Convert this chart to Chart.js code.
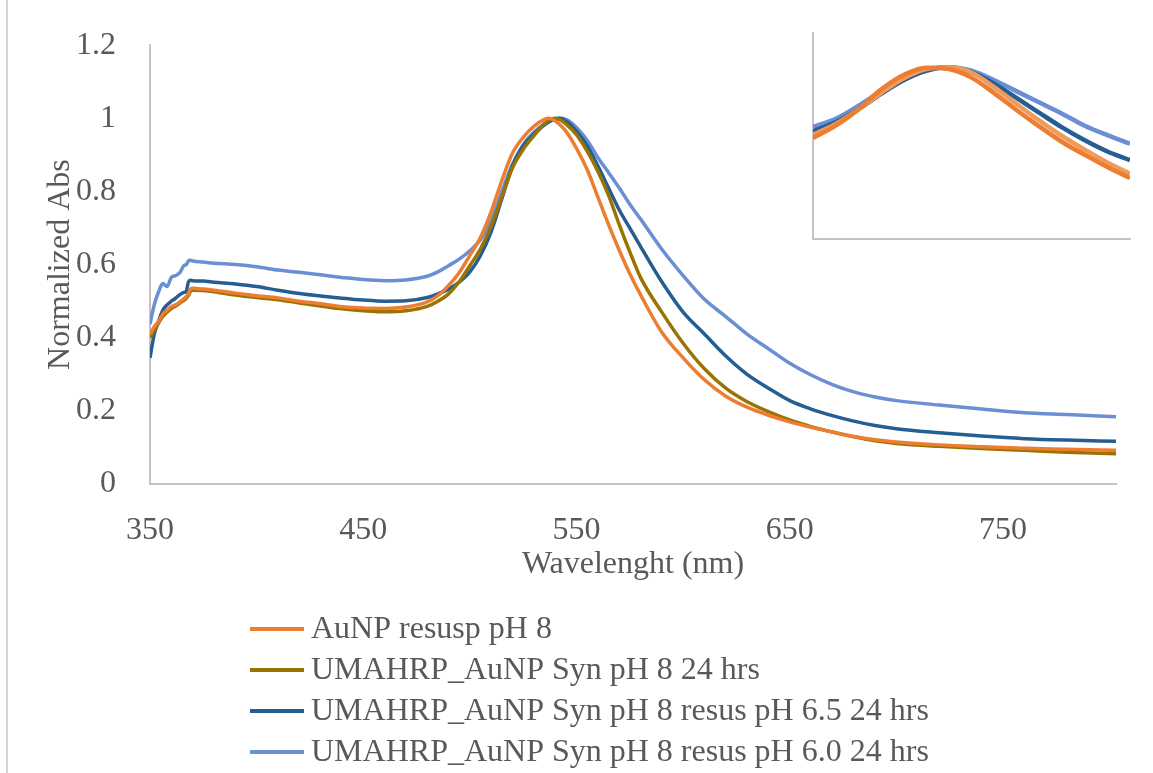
<!DOCTYPE html>
<html lang="en">
<head>
    <meta charset="UTF-8">
    <title>Normalized Abs vs Wavelength</title>
    <script src="https://cdn.jsdelivr.net/npm/chart.js"></script>
    <style>
        body {
            margin: 0;
            background: #fff;
            overflow: hidden;
        }

        #wrap {
            position: relative;
            width: 1153px;
            height: 773px;
        }

        #frameLine {
            position: absolute;
            left: 6px;
            top: 0;
            width: 2px;
            height: 773px;
            background: #d6d6d6;
        }

        #insetChart {
            position: absolute;
            left: 800px;
            top: 20px;
        }
    </style>
</head>
<body>
    <div id="wrap">
        <div id="frameLine"></div>
        <canvas id="mainChart" width="1153" height="773"></canvas>
        <canvas id="insetChart" width="345" height="240"></canvas>
    </div>

    <script>
        // wavelengths (nm) shared by the four spectra
        const wavelengths = [350, 352, 354, 356, 358, 360, 362, 364, 366, 367, 368, 369, 370, 375, 380, 390, 400, 410, 420, 430,
            440, 450, 460, 470, 480, 485, 490, 495, 500, 505, 510, 515, 520, 525, 530, 535, 537, 540, 542, 545,
            550, 555, 560, 565, 570, 575, 580, 590, 600, 610, 620, 630, 640, 650, 660, 670, 680, 690, 700, 720,
            740, 760, 780, 803];

        const aunpResusp = [0.41, 0.43, 0.445, 0.465, 0.475, 0.485, 0.49, 0.498, 0.507, 0.512, 0.52, 0.533, 0.535, 0.533, 0.530, 0.522, 0.515, 0.509, 0.500, 0.493,
            0.485, 0.481, 0.480, 0.484, 0.498, 0.515, 0.543, 0.578, 0.625, 0.675, 0.745, 0.83, 0.905, 0.948, 0.978, 0.997, 1.0, 0.993, 0.984, 0.965,
            0.918, 0.86, 0.785, 0.71, 0.64, 0.575, 0.518, 0.415, 0.345, 0.285, 0.24, 0.21, 0.188, 0.17, 0.155, 0.142, 0.13, 0.121, 0.115, 0.107,
            0.102, 0.098, 0.095, 0.092];

        const synPh8 = [0.40, 0.42, 0.44, 0.458, 0.47, 0.48, 0.487, 0.495, 0.503, 0.508, 0.515, 0.527, 0.53, 0.529, 0.526, 0.517, 0.51, 0.504, 0.495, 0.487,
            0.479, 0.474, 0.471, 0.474, 0.486, 0.50, 0.52, 0.553, 0.597, 0.643, 0.705, 0.785, 0.865, 0.915, 0.952, 0.985, 0.994, 1.0, 0.997, 0.985,
            0.955, 0.91, 0.855, 0.79, 0.71, 0.635, 0.565, 0.47, 0.385, 0.315, 0.262, 0.225, 0.198, 0.175, 0.157, 0.142, 0.129, 0.118, 0.111, 0.103,
            0.097, 0.092, 0.087, 0.083];

        const resusPh65 = [0.345, 0.41, 0.445, 0.475, 0.49, 0.50, 0.508, 0.518, 0.524, 0.527, 0.552, 0.557, 0.556, 0.555, 0.552, 0.547, 0.54, 0.530, 0.521, 0.514,
            0.508, 0.503, 0.500, 0.501, 0.510, 0.52, 0.533, 0.552, 0.58, 0.625, 0.69, 0.78, 0.87, 0.925, 0.957, 0.982, 0.99, 0.998, 1.0, 0.993,
            0.965, 0.925, 0.87, 0.81, 0.75, 0.70, 0.65, 0.553, 0.47, 0.41, 0.35, 0.30, 0.262, 0.228, 0.205, 0.187, 0.172, 0.16, 0.151, 0.14,
            0.131, 0.124, 0.12, 0.117];

        const resusPh60 = [0.437, 0.49, 0.525, 0.548, 0.54, 0.565, 0.57, 0.578, 0.598, 0.60, 0.61, 0.612, 0.61, 0.607, 0.604, 0.60, 0.594, 0.585, 0.579, 0.572,
            0.565, 0.559, 0.556, 0.558, 0.568, 0.58, 0.597, 0.615, 0.638, 0.668, 0.72, 0.80, 0.875, 0.928, 0.962, 0.985, 0.991, 0.998, 1.0, 0.997,
            0.975, 0.94, 0.893, 0.852, 0.81, 0.765, 0.725, 0.642, 0.57, 0.505, 0.458, 0.41, 0.37, 0.33, 0.298, 0.272, 0.252, 0.238, 0.228, 0.216,
            0.205, 0.195, 0.19, 0.184];

        const seriesLabels = [
            'AuNP resusp pH 8',
            'UMAHRP_AuNP Syn pH 8 24 hrs',
            'UMAHRP_AuNP Syn pH 8 resus pH 6.5 24 hrs',
            'UMAHRP_AuNP Syn pH 8 resus pH 6.0 24 hrs'
        ];
        const seriesColors = ['#ED7D31', '#9A7300', '#245E93', '#6A8FD4'];

        const xTicks = [350, 450, 550, 650, 750];
        const yTicks = [0, 0.2, 0.4, 0.6, 0.8, 1, 1.2];
        const yTickLabels = ['0', '0.2', '0.4', '0.6', '0.8', '1', '1.2'];

        // inset: close-up of the plasmon peak
        const insetWavelengths = [480, 490, 500, 510, 520, 530, 540, 550, 560, 570, 580, 590, 600, 610, 620];
        const insetOrangeA = [0.588, 0.66, 0.755, 0.87, 0.955, 0.998, 0.99, 0.94, 0.85, 0.75, 0.655, 0.565, 0.49, 0.42, 0.355];
        const insetOrangeB = [0.608, 0.67, 0.755, 0.85, 0.935, 0.99, 1.0, 0.97, 0.885, 0.785, 0.69, 0.60, 0.52, 0.445, 0.38];
        const insetDarkBlue = [0.627, 0.68, 0.755, 0.845, 0.925, 0.98, 1.0, 0.97, 0.905, 0.82, 0.735, 0.65, 0.575, 0.51, 0.46];
        const insetLightBlue = [0.652, 0.70, 0.775, 0.86, 0.935, 0.985, 1.0, 0.98, 0.925, 0.86, 0.795, 0.73, 0.66, 0.605, 0.555];
        const insetColors = ['#ED7D31', '#F09A5C', '#245E93', '#6A8FD4'];

        const FONT = '"Liberation Serif", "Times New Roman", serif';
        const TEXT = '#595959';
        const AXIS = '#c4c4c4';

        function toPoints(xs, ys) {
            return xs.map((x, i) => ({ x: x, y: ys[i] }));
        }

        // legend drawn as one item per row under the plot
        const rowLegend = {
            id: 'rowLegend',
            afterDraw(chart) {
                const ctx = chart.ctx;
                ctx.save();
                ctx.font = '32px ' + FONT;
                ctx.textBaseline = 'middle';
                ctx.fillStyle = TEXT;
                chart.data.datasets.forEach((ds, i) => {
                    const y = 629 + i * 41;
                    ctx.strokeStyle = ds.borderColor;
                    ctx.lineWidth = 4;
                    ctx.beginPath();
                    ctx.moveTo(250, y);
                    ctx.lineTo(304, y);
                    ctx.stroke();
                    ctx.fillText(ds.label, 311, y + 1);
                });
                ctx.restore();
            }
        };

        const mainSeries = [aunpResusp, synPh8, resusPh65, resusPh60];

        new Chart(document.getElementById('mainChart'), {
            type: 'line',
            data: {
                datasets: mainSeries.map((vals, i) => ({
                    label: seriesLabels[i],
                    data: toPoints(wavelengths, vals),
                    borderColor: seriesColors[i],
                    borderWidth: 3.5,
                    pointRadius: 0,
                    fill: false,
                    cubicInterpolationMode: 'monotone'
                }))
            },
            options: {
                responsive: false,
                animation: false,
                layout: { padding: { left: 0, top: 40, right: 37, bottom: 189 } },
                plugins: {
                    legend: { display: false },
                    tooltip: { enabled: false }
                },
                scales: {
                    x: {
                        type: 'linear',
                        min: 350,
                        max: 803,
                        afterFit(scale) { scale.height = 100; },
                        afterBuildTicks(scale) { scale.ticks = xTicks.map(v => ({ value: v })); },
                        grid: { display: false },
                        border: { display: true, color: AXIS, width: 2 },
                        ticks: { color: TEXT, font: { family: FONT, size: 32 }, padding: 19, maxRotation: 0 },
                        title: {
                            display: true,
                            text: 'Wavelenght (nm)',
                            color: TEXT,
                            font: { family: FONT, size: 32 },
                            padding: { top: 0, bottom: 0 }
                        }
                    },
                    y: {
                        min: 0,
                        max: 1.2,
                        afterFit(scale) { scale.width = 150; },
                        afterBuildTicks(scale) { scale.ticks = yTicks.map(v => ({ value: v })); },
                        grid: { display: false },
                        border: { display: true, color: AXIS, width: 2 },
                        ticks: {
                            color: TEXT,
                            font: { family: FONT, size: 32 },
                            padding: 26,
                            callback: (v, i) => yTickLabels[i]
                        },
                        title: {
                            display: true,
                            text: 'Normalized Abs',
                            color: TEXT,
                            font: { family: FONT, size: 32 },
                            padding: { top: 41, bottom: 0 }
                        }
                    }
                }
            },
            plugins: [rowLegend]
        });

        const insetSeries = [insetOrangeA, insetOrangeB, insetDarkBlue, insetLightBlue];

        new Chart(document.getElementById('insetChart'), {
            type: 'line',
            data: {
                datasets: insetSeries.map((vals, i) => ({
                    data: toPoints(insetWavelengths, vals),
                    borderColor: insetColors[i],
                    borderWidth: 4.5,
                    pointRadius: 0,
                    fill: false,
                    cubicInterpolationMode: 'monotone'
                }))
            },
            options: {
                responsive: false,
                animation: false,
                layout: { padding: { left: 13, top: 13, right: 15, bottom: 21 } },
                plugins: {
                    legend: { display: false },
                    tooltip: { enabled: false }
                },
                scales: {
                    x: {
                        type: 'linear',
                        min: 480,
                        max: 620,
                        afterFit(scale) { scale.height = 0; },
                        grid: { display: false },
                        border: { display: true, color: AXIS, width: 2 },
                        ticks: { display: false }
                    },
                    y: {
                        min: 0,
                        max: 1.2,
                        afterFit(scale) { scale.width = 0; },
                        grid: { display: false },
                        border: { display: true, color: AXIS, width: 2 },
                        ticks: { display: false }
                    }
                }
            }
        });
    </script>
</body>
</html>
